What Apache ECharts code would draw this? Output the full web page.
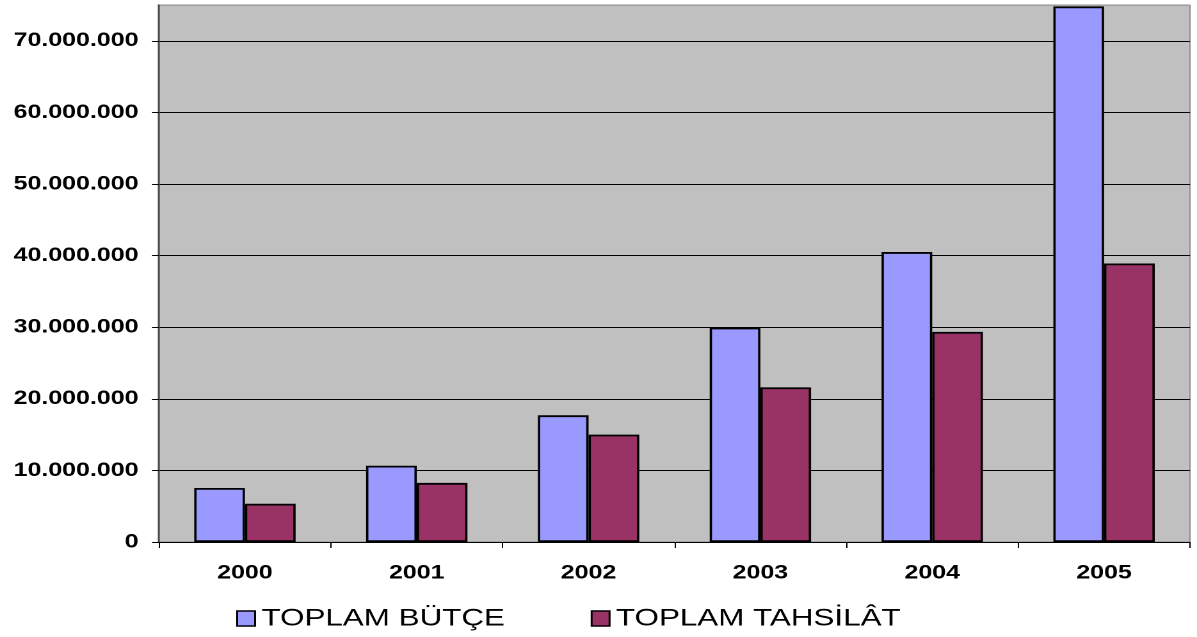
<!DOCTYPE html>
<html>
<head>
<meta charset="utf-8">
<style>
  html, body { margin: 0; padding: 0; background: #ffffff; }
  #frame { width: 1197px; height: 637px; overflow: hidden; position: relative; }
  /* the chart is laid out on a narrower canvas and widened horizontally */
  #chart { width: 935px; height: 637px; transform: scaleX(1.28021); transform-origin: 0 0; }
</style>
<script src="https://cdn.jsdelivr.net/npm/echarts@6/dist/echarts.min.js"></script>
</head>
<body>
<div id="frame"><div id="chart"></div></div>
<script>
// Yearly totals: budget vs. collections
const years = ['2000', '2001', '2002', '2003', '2004', '2005'];
const toplamButce = [7550000, 10650000, 17700000, 29950000, 40500000, 74800000];
const toplamTahsilat = [5350000, 8250000, 15000000, 21600000, 29350000, 38900000];
const seriesNames = ['TOPLAM BÜTÇE', 'TOPLAM TAHSİLÂT'];

// 12345678 -> "12.345.678"
function dotted(v) {
  return String(Math.round(v)).replace(/\B(?=(\d{3})+(?!\d))/g, '.');
}

const chart = echarts.init(document.getElementById('chart'), null, { renderer: 'canvas', devicePixelRatio: 2 });

const labelFont = { fontFamily: '"Liberation Sans", Arial, sans-serif', fontWeight: 'bold', fontSize: 19.5, color: '#000' };

chart.setOption({
  animation: false,
  backgroundColor: '#ffffff',
  grid: {
    left: 124.2, right: 5.5, top: 5, bottom: 95,
    show: true,
    backgroundColor: '#c0c0c0',
    borderColor: '#8c8c8c',
    borderWidth: 1
  },
  legend: {
    top: 606,
    left: 184.5,
    padding: 0,
    itemGap: 67,
    itemWidth: 14,
    itemHeight: 15,
    icon: 'rect',
    textStyle: { fontFamily: '"Liberation Sans", Arial, sans-serif', fontSize: 24.5, color: '#000' },
    data: [
      { name: seriesNames[0], itemStyle: { borderColor: '#000', borderWidth: 1.5 } },
      { name: seriesNames[1], itemStyle: { borderColor: '#000', borderWidth: 1.5 } }
    ]
  },
  xAxis: {
    type: 'category',
    data: years,
    axisLine: { lineStyle: { color: '#000', width: 1 } },
    axisTick: { show: true, length: 6, lineStyle: { color: '#000' } },
    axisLabel: Object.assign({ margin: 21 }, labelFont)
  },
  yAxis: {
    type: 'value',
    min: 0,
    max: 75000000,
    interval: 10000000,
    axisLine: { show: true, lineStyle: { color: '#4a4a4a', width: 1.5 } },
    axisTick: { show: true, length: 5.5, lineStyle: { color: '#000' } },
    axisLabel: Object.assign({
      margin: 16,
      showMaxLabel: false,
      formatter: function (v) { return v % 10000000 === 0 ? dotted(v) : ''; }
    }, labelFont),
    splitLine: {
      show: true,
      lineStyle: {
        color: ['#000', '#000', '#000', '#000', '#000', '#000', '#000', '#000', '#a0a0a0'],
        width: 1
      }
    }
  },
  series: [
    {
      name: seriesNames[0],
      type: 'bar',
      data: toplamButce,
      barGap: '0%',
      barCategoryGap: '41%',
      itemStyle: { color: '#9999ff', borderColor: '#000', borderWidth: 1.8 }
    },
    {
      name: seriesNames[1],
      type: 'bar',
      data: toplamTahsilat,
      itemStyle: { color: '#993366', borderColor: '#000', borderWidth: 1.8 }
    }
  ]
});
</script>
</body>
</html>
